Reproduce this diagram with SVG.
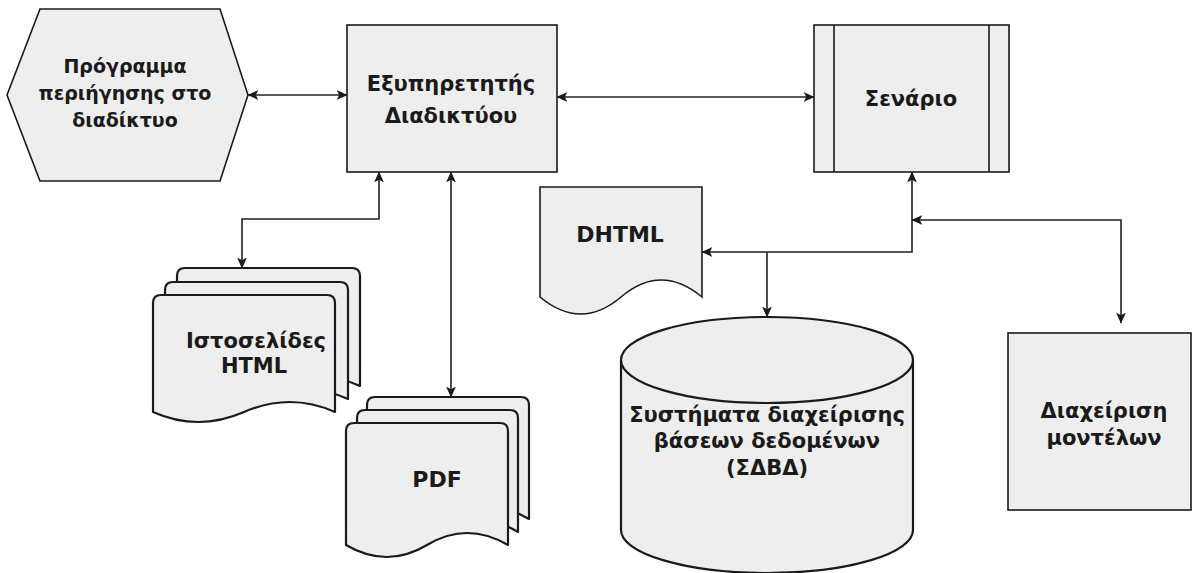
<svg xmlns="http://www.w3.org/2000/svg" width="1193" height="573" viewBox="0 0 1193 573">
<defs>
<marker id="arr" viewBox="0 0 10 10" refX="9.5" refY="5" markerWidth="11" markerHeight="11" markerUnits="userSpaceOnUse" orient="auto-start-reverse">
<path d="M0,0.5 L10,5 L0,9.5 L2.5,5 Z" fill="#1a1a1a"/>
</marker>
</defs>
<style>
.n{fill:#eeeeee;stroke:#1a1a1a;stroke-width:1.6}
.pg{fill:#eeeeee;stroke:#1a1a1a;stroke-width:2.2;stroke-linejoin:round}
.c{fill:none;stroke:#222;stroke-width:1.6}
.t{font-family:"DejaVu Sans","Open Sans",sans-serif;font-weight:bold;fill:#1a1a1a;text-anchor:middle}
.s{font-size:19px}
.m{font-size:21px}
.l{font-size:22px}
</style>
<rect width="1193" height="573" fill="#ffffff"/>
<g id="connectors">
<line class="c" x1="248" y1="95" x2="347" y2="95" marker-start="url(#arr)" marker-end="url(#arr)"/>
<line class="c" x1="557" y1="97" x2="814" y2="97" marker-start="url(#arr)" marker-end="url(#arr)"/>
<path class="c" d="M379,172 V219 H242 V268" marker-start="url(#arr)" marker-end="url(#arr)"/>
<line class="c" x1="451" y1="172" x2="451" y2="397" marker-start="url(#arr)" marker-end="url(#arr)"/>
<path class="c" d="M912,172 V252 H702" marker-start="url(#arr)" marker-end="url(#arr)"/>
<path class="c" d="M767,252 V317" marker-end="url(#arr)"/>
<path class="c" d="M912,220 H1121 V323" marker-start="url(#arr)" marker-end="url(#arr)"/>
</g>
<g id="browser">
<polygon class="n" points="7,95 40,9 220,9 248,95 220,181 40,181"/>
<text class="t s" x="125" y="73">Πρόγραμμα</text>
<text class="t s" x="125" y="100">περιήγησης στο</text>
<text class="t s" x="125" y="127">διαδίκτυο</text>
</g>
<g id="webserver">
<rect class="n" x="347" y="25" width="210" height="147"/>
<text class="t m" x="451" y="91">Εξυπηρετητής</text>
<text class="t m" x="451" y="123">Διαδικτύου</text>
</g>
<g id="scenario">
<rect class="n" x="814" y="25" width="195" height="147"/>
<line class="n" x1="834" y1="25" x2="834" y2="172"/>
<line class="n" x1="989" y1="25" x2="989" y2="172"/>
<text class="t m" x="911" y="106">Σενάριο</text>
</g>
<g id="html">
<path class="pg" d="M177,386 V276 Q177,268 185,268 H352 Q360,268 360,276 V386 Q314,366 268,386 T177,386 Z"/>
<path class="pg" d="M165,399 V290 Q165,282 173,282 H340 Q348,282 348,290 V399 Q302,379 256,399 T165,399 Z"/>
<path class="pg" d="M153,412 V303 Q153,295 161,295 H327 Q335,295 335,303 V412 Q290,392 244,412 T153,412 Z"/>
<text class="t m" x="256" y="348">Ιστοσελίδες</text>
<text class="t m" x="254" y="373">HTML</text>
</g>
<g id="pdf">
<path class="pg" d="M367,519 V405 Q367,397 375,397 H521 Q529,397 529,405 V519 Q488,495 448,519 T367,519 Z"/>
<path class="pg" d="M357,532 V418 Q357,410 365,410 H510 Q518,410 518,418 V532 Q478,508 437,532 T357,532 Z"/>
<path class="pg" d="M346,545 V431 Q346,423 354,423 H500 Q508,423 508,431 V545 Q467,521 427,545 T346,545 Z"/>
<text class="t l" x="437" y="487">PDF</text>
</g>
<g id="dhtml">
<path class="n" d="M540,187 H702 V297 Q661,263 621,297 T540,297 Z"/>
<text class="t l" x="620" y="242">DHTML</text>
</g>
<g id="dbms">
<path class="pg" d="M621,360 A146,43 0 0,1 913,360 V530 A146,43 0 0,1 621,530 Z"/>
<path class="pg" fill="none" d="M621,360 A146,43 0 0,0 913,360"/>
<text class="t m" x="767" y="422">Συστήματα διαχείρισης</text>
<text class="t m" x="767" y="448">βάσεων δεδομένων</text>
<text class="t m" x="767" y="475">(ΣΔΒΔ)</text>
</g>
<g id="models">
<rect class="n" x="1008" y="333" width="183" height="177"/>
<text class="t m" x="1104" y="418">Διαχείριση</text>
<text class="t m" x="1104" y="445">μοντέλων</text>
</g>
</svg>
